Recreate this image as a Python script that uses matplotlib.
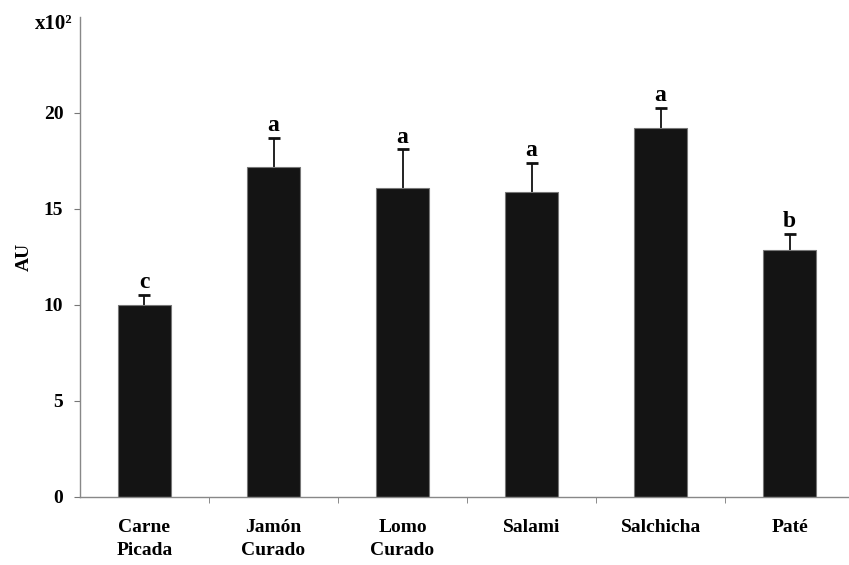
import matplotlib
matplotlib.use("Agg")
import matplotlib.pyplot as plt
import numpy as np

categories = ["Carne\nPicada", "Jamón\nCurado", "Lomo\nCurado", "Salami", "Salchicha", "Paté"]
values = [10.0, 17.2, 16.1, 15.9, 19.2, 12.85]
errors = [0.5, 1.5, 2.0, 1.5, 1.05, 0.85]
letters = ["c", "a", "a", "a", "a", "b"]


def main():
    plt.rcParams["font.family"] = ["Liberation Serif", "DejaVu Serif"]
    plt.rcParams["font.weight"] = "bold"

    fig = plt.figure(figsize=(8.49, 5.65), dpi=100)
    ax = fig.add_axes([0.0942, 0.1204, 0.9058, 0.8496])

    x = np.arange(len(categories))
    tops = np.array(values) + np.array(errors)
    # upper error bars only: stem plus a cap marker at the top
    ax.vlines(x, values, tops, color="#111111", linewidth=1.3, zorder=1)
    ax.plot(x, tops, linestyle="none", marker="_", markersize=8, markeredgewidth=2,
            color="#111111", zorder=3)
    ax.bar(x, values, width=0.41, color="#141414", edgecolor="#777777", linewidth=0.8, zorder=2)

    for xi, top, t in zip(x, tops, letters):
        ax.text(xi, top + 0.1, t, ha="center", va="bottom", fontsize=17, fontweight="bold")

    ax.set_ylim(0, 25)
    ax.set_xlim(-0.5, 5.46)
    ax.set_yticks([0, 5, 10, 15, 20])
    ax.set_xticks(x)
    ax.set_xticklabels(categories, fontsize=14, fontweight="bold", linespacing=1.45)
    ax.set_xticks(np.arange(0.5, 5.5, 1), minor=True)
    ax.tick_params(axis="x", which="major", length=0, pad=16)
    ax.tick_params(axis="x", which="minor", length=4, direction="out", color="#777777")
    ax.tick_params(axis="y", length=4, direction="out", color="#777777", labelsize=14, pad=8)
    for lab in ax.get_yticklabels():
        lab.set_fontweight("bold")

    for s in ["top", "right"]:
        ax.spines[s].set_visible(False)
    for s in ["left", "bottom"]:
        ax.spines[s].set_color("#888888")
        ax.spines[s].set_linewidth(1.0)

    ax.set_ylabel("AU", fontsize=14, fontweight="bold", labelpad=8)
    fig.text(0.041, 0.958, "x10²", fontsize=15, fontweight="bold", ha="left", va="center")

    fig.savefig("out.png", dpi=100)


if __name__ == "__main__":
    main()
